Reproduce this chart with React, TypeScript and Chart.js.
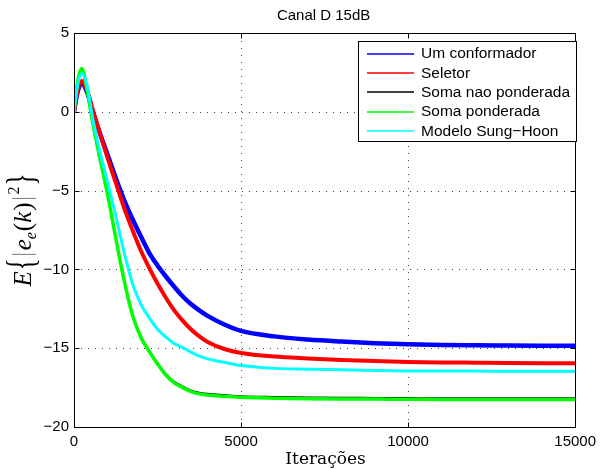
import React, { useEffect, useRef } from "react";
import { Chart, registerables } from "chart.js";

Chart.register(...registerables);

// ---------- data ----------
const chartTitle = "Canal D 15dB";
const xAxisLabel = "Iterações";
const xTicks = [0, 5000, 10000, 15000];
const yTicks = [-20, -15, -10, -5, 0, 5];

const iterations = [
  0, 100, 230, 400, 550, 750, 1000, 1250, 1500, 1750, 2000, 2250, 2500, 2750, 3000,
  3250, 3500, 3750, 4000, 4500, 5000, 6000, 7000, 8000, 9000, 10000, 11000, 12000,
  13000, 14000, 15000,
];

const umConformador = [
  0, 1.2, 1.8, 1.2, 0.1, -1.2, -2.7, -4.2, -5.6, -6.8, -7.9, -8.95, -9.75, -10.45, -11.1,
  -11.7, -12.2, -12.6, -12.95, -13.5, -13.9, -14.25, -14.45, -14.58, -14.68, -14.75,
  -14.8, -14.82, -14.83, -14.84, -14.85,
];

const seletor = [
  0, 1.3, 1.95, 1.3, 0.2, -1.2, -2.9, -4.5, -6.1, -7.5, -8.8, -9.9, -10.9, -11.8, -12.6,
  -13.25, -13.8, -14.25, -14.6, -15.05, -15.3, -15.53, -15.65, -15.75, -15.82, -15.87,
  -15.9, -15.92, -15.94, -15.95, -15.95,
];

const somaNaoPonderada = [
  0, 1.8, 2.72, 1.3, -0.55, -2.64, -5.13, -7.92, -10.6, -12.8, -14.2, -15.1, -15.9,
  -16.6, -17.1, -17.4, -17.65, -17.8, -17.87, -17.95, -18.02, -18.07, -18.1, -18.12,
  -18.13, -18.14, -18.15, -18.15, -18.15, -18.15, -18.15,
];

const somaPonderada = [
  0, 1.8, 2.75, 1.3, -0.6, -2.7, -5.2, -8.0, -10.7, -12.9, -14.3, -15.2, -16.0, -16.7,
  -17.2, -17.5, -17.75, -17.9, -17.97, -18.05, -18.12, -18.17, -18.2, -18.22, -18.23,
  -18.24, -18.25, -18.25, -18.25, -18.25, -18.25,
];

const modeloSungHoon = [
  0, 1.6, 2.45, 1.6, -0.3, -2.3, -4.4, -6.6, -8.9, -10.9, -12.2, -13.06, -13.8, -14.3,
  -14.7, -14.96, -15.25, -15.5, -15.68, -15.9, -16.1, -16.28, -16.33, -16.37, -16.41,
  -16.44, -16.45, -16.45, -16.46, -16.46, -16.46,
];

const seriesNames = [
  "Um conformador",
  "Seletor",
  "Soma nao ponderada",
  "Soma ponderada",
  "Modelo Sung\u2212Hoon",
];
const seriesValues = [umConformador, seletor, somaNaoPonderada, somaPonderada, modeloSungHoon];
const seriesColors = ["#0000ff", "#ff0000", "#000000", "#00ff00", "#00ffff"];
const seriesWidths = [4.5, 4, 1.2, 3.5, 3];

const SANS = "'Liberation Sans', Arial, Helvetica, sans-serif";
const SERIF = "'Liberation Serif', 'Times New Roman', serif";

// ---------- custom drawing (MATLAB look) ----------
function drawYLabel(ctx: CanvasRenderingContext2D) {
  ctx.save();
  ctx.translate(31, 230);
  ctx.rotate(-Math.PI / 2);
  ctx.fillStyle = "#000";
  ctx.strokeStyle = "#000";
  ctx.textBaseline = "alphabetic";
  ctx.textAlign = "left";
  type Part = { t?: string; f?: string; dy?: number; sx?: number; bar?: boolean; pre?: number };
  const big = `italic 25px ${SERIF}`;
  const rom = `25px ${SERIF}`;
  const small = `italic 16px ${SERIF}`;
  const smallRom = `16px ${SERIF}`;
  const brace = `40px ${SERIF}`;
  const parts: Part[] = [
    { t: "E", f: big },
    { t: "{", f: brace, dy: 3, sx: 0.62, pre: 1 },
    { bar: true },
    { t: "e", f: big },
    { t: "e", f: small, dy: 5 },
    { t: "(", f: rom, pre: 1 },
    { t: "k", f: big },
    { t: ")", f: rom, pre: 1 },
    { bar: true },
    { t: "2", f: smallRom, dy: -12 },
    { t: "}", f: brace, dy: 3, sx: 0.62, pre: 1 },
  ];
  const widths = parts.map((p) => {
    if (p.bar) return 8;
    ctx.font = p.f!;
    return ctx.measureText(p.t!).width * (p.sx ?? 1) + (p.pre ?? 0);
  });
  const total = widths.reduce((a, b) => a + b, 0);
  let x = -total / 2;
  parts.forEach((p, i) => {
    if (p.bar) {
      ctx.lineWidth = 1;
      ctx.strokeStyle = "#777";
      ctx.beginPath();
      ctx.moveTo(x + 4, -19);
      ctx.lineTo(x + 4, 5);
      ctx.stroke();
    } else {
      ctx.font = p.f!;
      ctx.save();
      ctx.translate(x + (p.pre ?? 0), p.dy ?? 0);
      ctx.scale(p.sx ?? 1, 1);
      ctx.fillText(p.t!, 0, 0);
      ctx.restore();
    }
    x += widths[i];
  });
  ctx.restore();
}

const matlabPlugin = {
  id: "matlabLook",
  beforeDatasetsDraw(chart: any) {
    const { ctx, chartArea: a, scales } = chart;
    const xs = scales.x;
    const ys = scales.y;
    ctx.save();
    ctx.strokeStyle = "#444";
    ctx.lineWidth = 1;
    ctx.setLineDash([1, 6]);
    xs.ticks.forEach((t: any) => {
      const px = Math.round(xs.getPixelForValue(t.value)) + 0.5;
      if (px <= a.left + 1 || px >= a.right - 1) return;
      ctx.beginPath();
      ctx.moveTo(px, a.bottom);
      ctx.lineTo(px, a.top);
      ctx.stroke();
    });
    ys.ticks.forEach((t: any) => {
      const py = Math.round(ys.getPixelForValue(t.value)) + 0.5;
      if (py <= a.top + 1 || py >= a.bottom - 1) return;
      ctx.beginPath();
      ctx.moveTo(a.left, py);
      ctx.lineTo(a.right, py);
      ctx.stroke();
    });
    ctx.restore();
  },
  afterDatasetsDraw(chart: any) {
    const { ctx, chartArea: a, scales } = chart;
    const xs = scales.x;
    const ys = scales.y;
    ctx.save();
    ctx.strokeStyle = "#000";
    ctx.lineWidth = 1;
    ctx.setLineDash([]);
    const L = Math.round(a.left) + 0.5;
    const R = Math.round(a.right) + 0.5;
    const T = Math.round(a.top) + 0.5;
    const B = Math.round(a.bottom) + 0.5;
    ctx.strokeRect(L, T, R - L, B - T);
    const tl = 5;
    xs.ticks.forEach((t: any) => {
      const px = Math.round(xs.getPixelForValue(t.value)) + 0.5;
      ctx.beginPath();
      ctx.moveTo(px, B);
      ctx.lineTo(px, B - tl);
      ctx.moveTo(px, T);
      ctx.lineTo(px, T + tl);
      ctx.stroke();
    });
    ys.ticks.forEach((t: any) => {
      const py = Math.round(ys.getPixelForValue(t.value)) + 0.5;
      ctx.beginPath();
      ctx.moveTo(L, py);
      ctx.lineTo(L + tl, py);
      ctx.moveTo(R, py);
      ctx.lineTo(R - tl, py);
      ctx.stroke();
    });

    // legend box
    const lx = 358.5, ly = 41.5, lw = 218, lh = 100;
    ctx.fillStyle = "#fff";
    ctx.fillRect(lx, ly, lw, lh);
    ctx.strokeRect(lx, ly, lw, lh);
    ctx.font = `15.5px ${SANS}`;
    ctx.textBaseline = "middle";
    ctx.textAlign = "left";
    seriesNames.forEach((name, i) => {
      const cy = 53.5 + i * 19.4;
      ctx.strokeStyle = seriesColors[i];
      ctx.lineWidth = 1.5;
      ctx.beginPath();
      ctx.moveTo(367, Math.round(cy));
      ctx.lineTo(414, Math.round(cy));
      ctx.stroke();
      ctx.fillStyle = "#000";
      ctx.fillText(name, 421, cy + 0.5);
    });
    ctx.restore();
  },
  afterDraw(chart: any) {
    const { ctx, chartArea: a } = chart;
    ctx.save();
    ctx.fillStyle = "#000";
    ctx.font = `15px ${SANS}`;
    ctx.textAlign = "center";
    ctx.textBaseline = "middle";
    ctx.fillText(chartTitle, (a.left + a.right) / 2 - 1, 16);
    ctx.font = `17px 'DejaVu Serif', ${SERIF}`;
    ctx.textBaseline = "alphabetic";
    ctx.fillText(xAxisLabel, (a.left + a.right) / 2 + 1, 464);
    ctx.restore();
    drawYLabel(ctx);
  },
};

const minusFmt = (v: number | string) => String(v).replace("-", "\u2212");

export default function App() {
  const ref = useRef<HTMLCanvasElement>(null);
  useEffect(() => {
    document.body.style.margin = "0";
    const datasets = seriesNames.map((name, i) => ({
      label: name,
      data: iterations.map((it, k) => ({ x: it, y: seriesValues[i][k] })),
      borderColor: seriesColors[i],
      backgroundColor: seriesColors[i],
      borderWidth: seriesWidths[i],
      pointRadius: 0,
      cubicInterpolationMode: "monotone" as const,
      fill: false,
      order: 5 - i,
    }));
    const chart = new Chart(ref.current!, {
      type: "line",
      data: { datasets },
      options: {
        animation: false,
        responsive: false,
        devicePixelRatio: 1,
        layout: { padding: { top: 33, right: 21, left: 0, bottom: 0 } },
        plugins: {
          legend: { display: false },
          title: { display: false },
          tooltip: { enabled: false },
        },
        scales: {
          x: {
            type: "linear",
            min: 0,
            max: 15000,
            afterBuildTicks: (s: any) => {
              s.ticks = xTicks.map((v) => ({ value: v }));
            },
            afterFit: (s: any) => {
              s.height = 42;
            },
            grid: { display: false, drawTicks: false },
            border: { display: false },
            ticks: {
              color: "#000",
              font: { family: SANS, size: 15 },
              padding: 6,
              maxRotation: 0,
              autoSkip: false,
              callback: (v: any) => minusFmt(v),
            },
          },
          y: {
            type: "linear",
            min: -20,
            max: 5,
            afterBuildTicks: (s: any) => {
              s.ticks = yTicks.map((v) => ({ value: v }));
            },
            afterFit: (s: any) => {
              s.width = 74;
            },
            grid: { display: false, drawTicks: false },
            border: { display: false },
            ticks: {
              color: "#000",
              font: { family: SANS, size: 15 },
              padding: 5,
              autoSkip: false,
              callback: (v: any) => minusFmt(v),
            },
          },
        },
      },
      plugins: [matlabPlugin],
    });
    return () => chart.destroy();
  }, []);
  return (
    <div style={{ position: "absolute", left: 0, top: 0, width: 602, height: 469, background: "#fff" }}>
      <canvas ref={ref} width={602} height={469} style={{ display: "block" }} />
    </div>
  );
}
